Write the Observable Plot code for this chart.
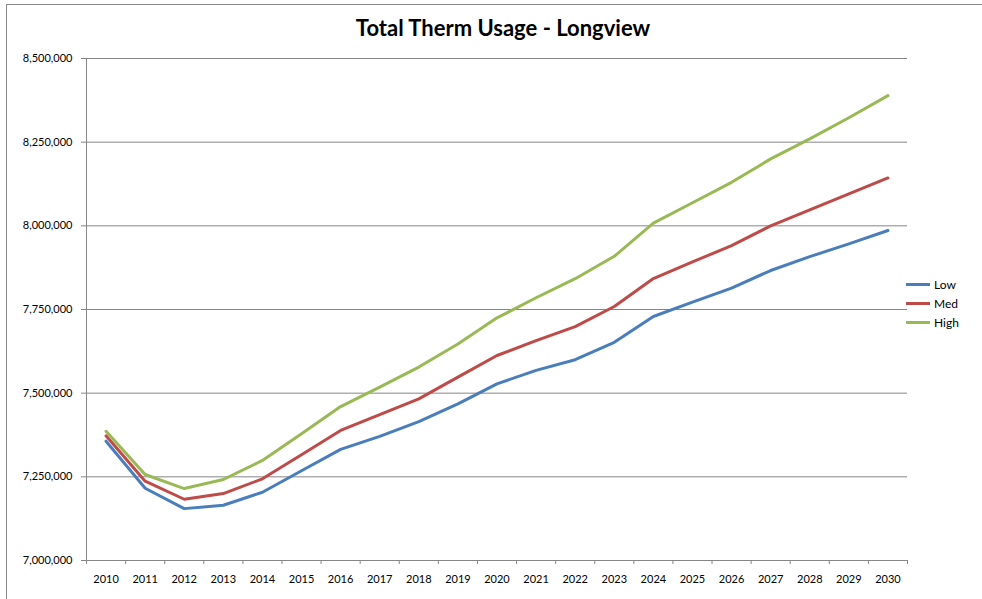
<!DOCTYPE html>
<html><head><meta charset="utf-8">
<script src="https://cdn.jsdelivr.net/npm/d3@7"></script>
<script src="https://cdn.jsdelivr.net/npm/@observablehq/plot@0.6"></script>
<style>
body{margin:0;background:#fff;font-family:Lato,"Open Sans",sans-serif;}
#page{position:relative;width:982px;height:599px;overflow:hidden;}
#frame{position:absolute;left:6px;top:4px;width:1100px;height:800px;border:1px solid #8a8a8a;box-sizing:border-box;}
#main{position:absolute;left:0;top:0;width:982px;}
#title{height:40px;box-sizing:border-box;padding-top:17px;padding-left:24px;text-align:center;font-weight:bold;font-size:22px;line-height:22px;color:#000;}
#legend{position:absolute;left:906px;top:275px;font-size:12px;color:#000;}
.item{display:flex;align-items:center;height:19px;}
.sw{width:24px;height:3px;margin-right:4px;}
</style>
</head><body>
<div id="page">
  <div id="frame"></div>
  <div id="main">
    <div id="title">Total Therm Usage - Longview</div>
    <div id="chart"></div>
  </div>
  <div id="legend"></div>
</div>
<script>
const years = [2010,2011,2012,2013,2014,2015,2016,2017,2018,2019,2020,2021,2022,2023,2024,2025,2026,2027,2028,2029,2030];
const low  = [7356500,7216000,7155000,7165000,7204000,7268000,7332000,7371000,7415000,7468000,7528000,7568000,7600000,7652000,7729000,7772000,7814000,7866500,7908000,7946000,7986000];
const med  = [7372500,7237000,7183000,7200000,7244000,7316000,7388500,7436000,7483000,7548000,7612500,7657000,7699000,7759000,7842500,7892000,7941000,8000000,8048000,8095500,8143000];
const high = [7386000,7257000,7215000,7242000,7299000,7379000,7460000,7518000,7578000,7647000,7725000,7785000,7842000,7909000,8008000,8069000,8130000,8200000,8260000,8323000,8389000];
const seriesNames = ["Low","Med","High"];
const seriesColors = ["#4A7EBB","#BE4B48","#98B954"];
const yTicks = [7000000,7250000,7500000,7750000,8000000,8250000,8500000];

const seriesValues = [low, med, high];
const data = [];
seriesNames.forEach((s, k) => years.forEach((yr, i) => data.push({year: yr, value: seriesValues[k][i], series: s})));
const boundaries = years.map(y => y - 0.5).concat([years[years.length - 1] + 0.5]);
const axisColor = "#868686";

const chart = Plot.plot({
  width: 908, height: 559,
  marginTop: 18, marginBottom: 39, marginLeft: 86, marginRight: 1,
  x: {type: "linear", domain: [boundaries[0], boundaries[boundaries.length - 1]]},
  y: {domain: [yTicks[0], yTicks[yTicks.length - 1]]},
  color: {domain: seriesNames, range: seriesColors},
  style: {fontFamily: "Lato, 'Open Sans', sans-serif", fontSize: "11px", color: "#000", background: "transparent"},
  marks: [
    Plot.gridY(yTicks, {stroke: axisColor, strokeOpacity: 1}),
    Plot.axisY(yTicks, {tickFormat: d3.format(","), tickSize: 5, tickPadding: 9, stroke: axisColor, label: null}),
    Plot.axisX(boundaries, {tickSize: 4, tickFormat: () => "", stroke: axisColor, label: null}),
    Plot.axisX(years, {tickSize: 0, tickPadding: 15, tickFormat: d => String(d), label: null}),
    Plot.ruleX([boundaries[0]], {stroke: axisColor}),
    Plot.ruleY([yTicks[0]], {stroke: axisColor}),
    Plot.line(data, {x: "year", y: "value", stroke: "series", strokeWidth: 3, strokeLinejoin: "round", strokeLinecap: "round"})
  ]
});
document.getElementById("chart").appendChild(chart);

const legend = document.getElementById("legend");
seriesNames.forEach((s, k) => {
  const item = document.createElement("div");
  item.className = "item";
  item.innerHTML = `<div class="sw" style="background:${seriesColors[k]}"></div><span>${s}</span>`;
  legend.appendChild(item);
});
</script>
</body></html>
